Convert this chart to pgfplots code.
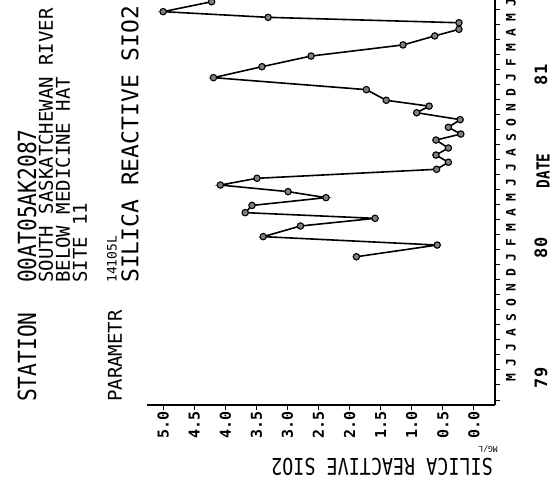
\documentclass[border=0pt]{standalone}
\usepackage{fontspec}
\setmainfont{DejaVu Sans Mono}
\newfontfamily\narrowfont[FakeStretch=0.85]{DejaVu Sans Mono}
\newfontfamily\tallfont[FakeStretch=0.8]{DejaVu Sans Mono}
\usepackage{pgfplots}
\usepackage{pgfplotstable}
\pgfplotsset{compat=1.18}

\pgfplotstableread{
v t
1.89 8.55
0.59 9.33
3.39 9.89
2.79 10.60
1.59 11.11
3.68 11.49
3.57 11.97
2.38 12.49
2.99 12.89
4.08 13.33
3.49 13.78
0.60 14.38
0.41 14.85
0.61 15.33
0.41 15.80
0.61 16.33
0.21 16.73
0.41 17.18
0.22 17.69
0.92 18.15
0.72 18.59
1.41 18.98
1.73 19.69
4.19 20.49
3.41 21.22
2.62 21.93
1.14 22.67
0.63 23.27
0.24 23.71
0.24 24.15
3.31 24.51
5.00 24.89
4.22 25.55
}\silica

\begin{document}
\begin{tikzpicture}[x=1pt,y=1pt]
\path[use as bounding box] (0,0) rectangle (557,489);
\begin{axis}[
  at={(147pt,84pt)}, anchor=south west,
  scale only axis, width=348pt, height=410pt,
  x dir=reverse,
  xmin=-0.34, xmax=5.26, ymin=-1.333, ymax=26,
  axis x line*=bottom, axis y line*=right,
  axis line style={black, line width=1.3pt, -},
  xtick={0,0.5,...,5},
  /pgf/number format/.cd, fixed, fixed zerofill, precision=1, assume math mode=true,
  /pgfplots/.cd,
  xticklabel style={rotate=90, anchor=east, font=\bfseries\fontsize{15}{15}\selectfont, inner sep=1pt},
  ytick={-1,0,...,25},
  yticklabels={},
  extra y ticks={0.5,1.5,...,25.5},
  extra y tick labels={M,J,J,A,S,O,N,D,J,F,M,A,M,J,J,A,S,O,N,D,J,F,M,A,M,J},
  extra y tick style={major tick length=0pt,
     yticklabel style={xshift=11pt, rotate=90, anchor=north, font=\bfseries\fontsize{13}{13}\selectfont, inner sep=0pt}},
  major tick length=5pt,
  tick style={black, line width=1pt},
  tick align=outside,
  clip=false,
]
\addplot[black, line width=1.6pt, mark=*, mark size=3.2pt,
  mark options={fill=black!50, draw=black, line width=1.1pt}]
  table[x=v, y=t] {\silica};
\end{axis}
% title block
\node[rotate=90, anchor=west, inner sep=0pt, font=\narrowfont\fontsize{25}{25}\selectfont] at (27,87) {STATION};
\node[rotate=90, anchor=west, inner sep=0pt, font=\narrowfont\fontsize{25}{25}\selectfont] at (27,206) {00AT05AK2087};
\node[rotate=90, anchor=west, inner sep=0pt, font=\fontsize{19}{19}\selectfont] at (46,206) {SOUTH SASKATCHEWAN RIVER};
\node[rotate=90, anchor=west, inner sep=0pt, font=\fontsize{19}{19}\selectfont] at (63,206) {BELOW MEDICINE HAT};
\node[rotate=90, anchor=west, inner sep=0pt, font=\fontsize{19}{19}\selectfont] at (80,206) {SITE 11};
\node[rotate=90, anchor=west, inner sep=0pt, font=\fontsize{19}{19}\selectfont] at (115,87) {PARAMETR};
\node[rotate=90, anchor=west, inner sep=0pt, font=\fontsize{13}{13}\selectfont] at (112,206) {14105L};
\node[rotate=90, anchor=west, inner sep=0pt, font=\fontsize{23}{23}\selectfont] at (130,206) {SILICA REACTIVE SIO2};
% date axis annotations
\node[rotate=90, inner sep=0pt, font=\bfseries\fontsize{17}{17}\selectfont] at (541,111) {79};
\node[rotate=90, inner sep=0pt, font=\bfseries\fontsize{17}{17}\selectfont] at (541,241) {80};
\node[rotate=90, inner sep=0pt, font=\bfseries\fontsize{17}{17}\selectfont] at (541,414) {81};
\node[rotate=90, inner sep=0pt, font=\tallfont\bfseries\fontsize{18}{18}\selectfont] at (543,318) {DATE};
% value axis label (upside down)
\node[rotate=180, inner sep=0pt, font=\tallfont\fontsize{23}{23}\selectfont] at (382,22) {SILICA REACTIVE SIO2};
\node[rotate=180, inner sep=0pt, font=\fontsize{8}{8}\selectfont] at (488,40) {MG/L};
\end{tikzpicture}
\end{document}
